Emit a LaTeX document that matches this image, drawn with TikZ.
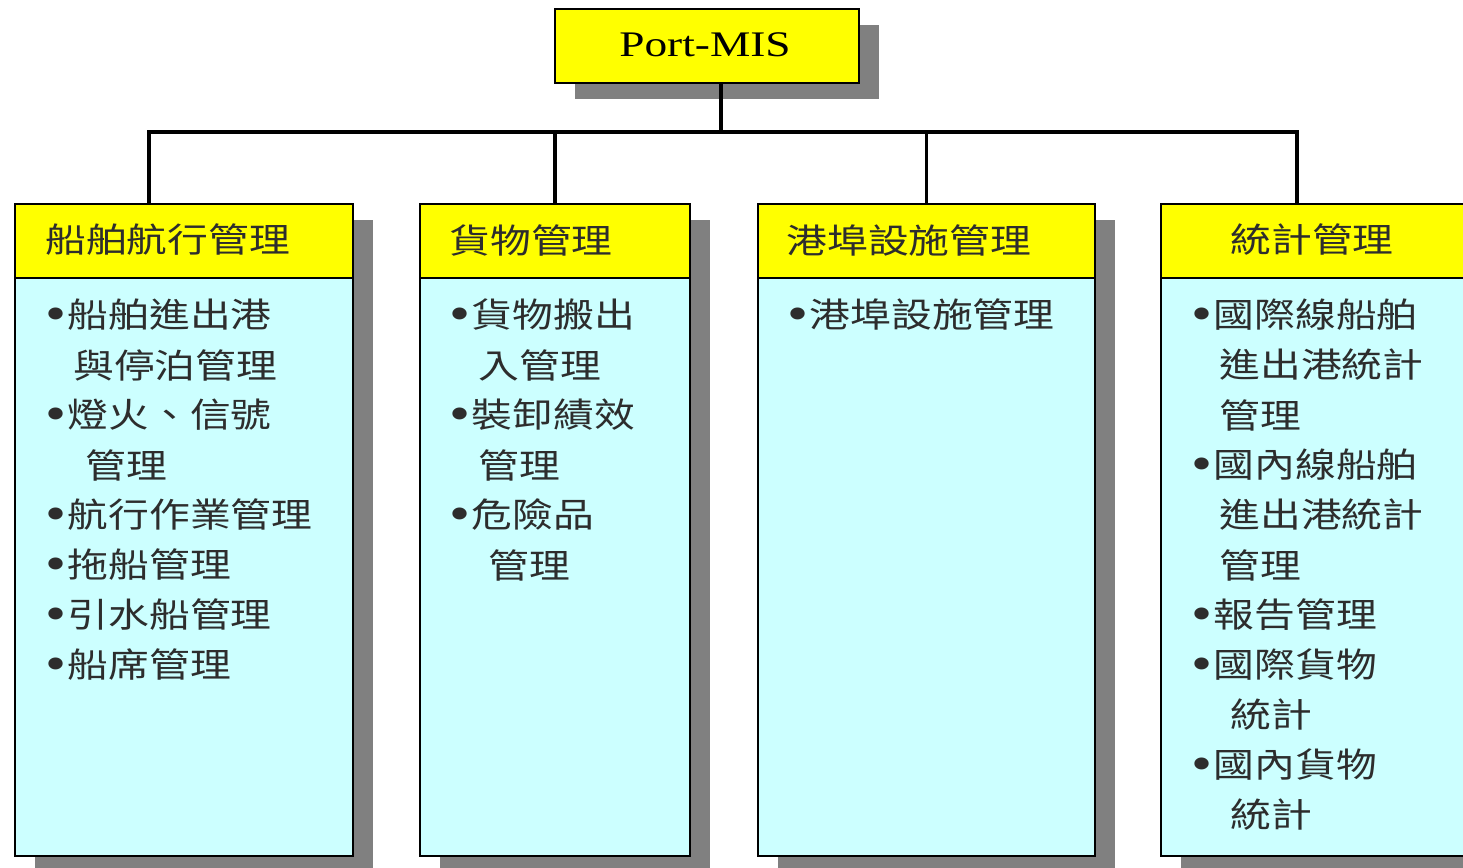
\documentclass[tikz,border=0pt]{standalone}
\usepackage{fontspec}
\setmainfont{Liberation Serif}
\newfontfamily\cjk{Noto Sans CJK TC}
\usetikzlibrary{shadows}
\definecolor{headyellow}{RGB}{255,255,0}
\definecolor{bodycyan}{RGB}{204,255,255}
\definecolor{shadowgray}{RGB}{128,128,128}
\definecolor{inkgray}{RGB}{45,45,45}
\newcommand{\wide}[1]{\scalebox{1.2}[1]{#1}}
\newcommand{\bul}{\raisebox{-1.5pt}{\rmfamily\fontsize{25pt}{20pt}\selectfont\textbullet}\hspace{0.5pt}}
\tikzstyle{link}=[line width=1.8pt]
\tikzstyle{castshadow}=[drop shadow={shadow xshift=10pt, shadow yshift=-8pt, fill=shadowgray, opacity=1}]
\tikzstyle{headbox}=[draw, line width=0.9pt, fill=headyellow, castshadow, anchor=north west, minimum height=37pt, inner sep=0pt]
\tikzstyle{bodybox}=[draw, line width=0.9pt, fill=bodycyan, castshadow, anchor=north west, minimum height=289pt, inner sep=0pt]
\tikzstyle{itemtext}=[anchor=west, inner sep=0pt, text=inkgray, font=\cjk\fontsize{17pt}{20pt}\selectfont]

\begin{document}
\begin{tikzpicture}[x=0.5pt, y=-0.5pt]
    \useasboundingbox (0,0) rectangle (1463,868);
    \clip (0,0) rectangle (1463,868);

    % root
    \node[headbox, minimum width=152pt] (portmis) at (554,8) {};
    \node[anchor=center, inner sep=0pt, font=\fontsize{18pt}{20pt}\selectfont] (portmist) at (705,45) {\scalebox{1.26}[1]{Port-MIS}};

    % the four branches
    \node[headbox, minimum width=169pt] (nav) at (14,203) {};
    \node[bodybox, minimum width=169pt] (navlist) at (14,277) {};
    \node[headbox, minimum width=135pt] (cargo) at (419,203) {};
    \node[bodybox, minimum width=135pt] (cargolist) at (419,277) {};
    \node[headbox, minimum width=168.5pt] (facil) at (757,203) {};
    \node[bodybox, minimum width=168.5pt] (facillist) at (757,277) {};
    \node[headbox, minimum width=160pt] (stat) at (1160,203) {};
    \node[bodybox, minimum width=160pt] (statlist) at (1160,277) {};

    \node[itemtext] (navt) at (45,240) {\wide{船舶航行管理}};
    \node[itemtext] (cargot) at (449,240) {\wide{貨物管理}};
    \node[itemtext] (facilt) at (786,240) {\wide{港埠設施管理}};
    \node[itemtext] (statt) at (1230,240) {\wide{統計管理}};

    % list items
    \foreach \px/\py/\txt [count=\i] in {
        45/315/{\bul 船舶進出港}, 73/365/{與停泊管理}, 45/415/{\bul 燈火、信號},
        85/465/{管理}, 45/515/{\bul 航行作業管理}, 45/565/{\bul 拖船管理},
        45/615/{\bul 引水船管理}, 45/665/{\bul 船席管理},
        449/315/{\bul 貨物搬出}, 478/365/{入管理}, 449/415/{\bul 裝卸績效},
        478/465/{管理}, 449/515/{\bul 危險品}, 488/565/{管理},
        787/315/{\bul 港埠設施管理},
        1191/315/{\bul 國際線船舶}, 1219/365/{進出港統計}, 1219/415/{管理},
        1191/465/{\bul 國內線船舶}, 1219/515/{進出港統計}, 1219/565/{管理},
        1191/615/{\bul 報告管理}, 1191/665/{\bul 國際貨物}, 1230/715/{統計},
        1191/765/{\bul 國內貨物}, 1230/815/{統計}}
        \node[itemtext] (item\i) at (\px,\py) {\wide{\txt}};

    % connectors
    \coordinate (bus) at (721,132);
    \draw[link] (portmis.south -| bus) -- (bus);
    \draw[link] (bus) -| ([xshift=-17.5pt]nav.north);
    \draw[link] (bus) -| (cargo.north);
    \draw[link] (bus) -| (facil.north);
    \draw[link] (bus) -| ([xshift=-12pt]stat.north);
\end{tikzpicture}
\end{document}
